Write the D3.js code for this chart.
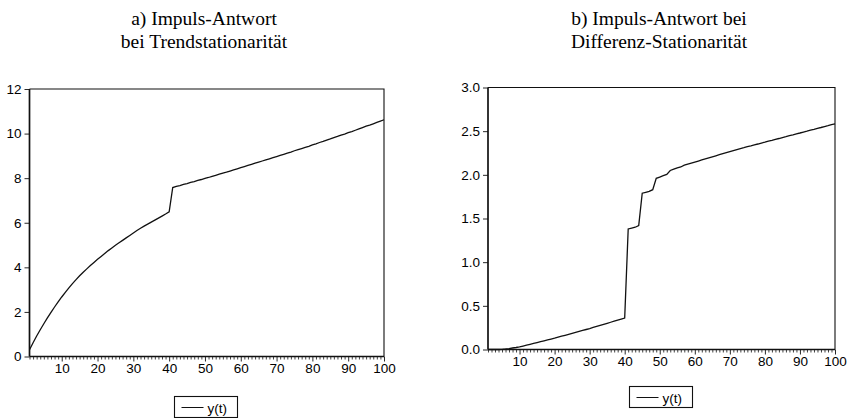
<!DOCTYPE html>
<html>
<head>
<meta charset="utf-8">
<script src="https://cdn.jsdelivr.net/npm/d3@7"></script>
<style>
  html, body { margin: 0; padding: 0; background: #fff; }
  svg { display: block; }
  .tick text { font-family: "Liberation Sans", Arial, sans-serif; font-size: 13.5px; fill: #000; }
  .title { font-family: "Liberation Serif", "Times New Roman", serif; font-size: 19.5px; fill: #000; }
  .legend text { font-family: "Liberation Sans", Arial, sans-serif; font-size: 13.5px; fill: #000; }
</style>
</head>
<body>
<svg id="chart" width="849" height="418"></svg>
<script>
// Periods 1..100
const periods = d3.range(1, 101);

// a) impulse response under trend stationarity
const trendResponse = [
  0.30, 0.62, 0.92, 1.20, 1.47, 1.73, 1.98, 2.22, 2.45, 2.67,
  2.88, 3.08, 3.27, 3.45, 3.62, 3.78, 3.93, 4.08, 4.22, 4.36,
  4.49, 4.62, 4.75, 4.87, 4.99, 5.10, 5.21, 5.32, 5.43, 5.54,
  5.65, 5.75, 5.85, 5.94, 6.03, 6.12, 6.21, 6.30, 6.39, 6.49,
  7.58, 7.63, 7.67, 7.72, 7.76, 7.81, 7.85, 7.90, 7.94, 7.99,
  8.03, 8.08, 8.13, 8.18, 8.23, 8.27, 8.32, 8.37, 8.42, 8.47,
  8.52, 8.57, 8.62, 8.67, 8.72, 8.77, 8.82, 8.87, 8.92, 8.97,
  9.02, 9.07, 9.12, 9.17, 9.23, 9.28, 9.33, 9.38, 9.43, 9.49,
  9.54, 9.60, 9.65, 9.71, 9.76, 9.82, 9.87, 9.93, 9.98, 10.04,
  10.09, 10.15, 10.21, 10.27, 10.33, 10.38, 10.44, 10.50, 10.56, 10.62
];

// b) impulse response under difference stationarity
const diffResponse = [
  0.000, 0.000, 0.000, 0.000, 0.002, 0.006, 0.011, 0.017, 0.023, 0.030,
  0.040, 0.050, 0.060, 0.070, 0.080, 0.090, 0.100, 0.110, 0.120, 0.130,
  0.141, 0.152, 0.163, 0.174, 0.185, 0.196, 0.207, 0.218, 0.229, 0.240,
  0.252, 0.264, 0.276, 0.288, 0.300, 0.312, 0.324, 0.336, 0.348, 0.360,
  1.380, 1.390, 1.400, 1.420, 1.790, 1.800, 1.810, 1.830, 1.960, 1.975,
  1.990, 2.005, 2.050, 2.065, 2.080, 2.090, 2.110, 2.122, 2.134, 2.146,
  2.158, 2.170, 2.182, 2.194, 2.206, 2.218, 2.230, 2.242, 2.254, 2.266,
  2.278, 2.290, 2.301, 2.311, 2.322, 2.332, 2.343, 2.353, 2.364, 2.374,
  2.385, 2.395, 2.406, 2.416, 2.427, 2.437, 2.448, 2.458, 2.469, 2.479,
  2.490, 2.500, 2.511, 2.521, 2.532, 2.542, 2.553, 2.563, 2.574, 2.584
];

const yTicksA = [0, 2, 4, 6, 8, 10, 12];
const yTicksB = [0.0, 0.5, 1.0, 1.5, 2.0, 2.5, 3.0];
const xLabelTicks = [10, 20, 30, 40, 50, 60, 70, 80, 90, 100];

const titlesA = ["a) Impuls-Antwort", "bei Trendstationarität"];
const titlesB = ["b) Impuls-Antwort bei", "Differenz-Stationarität"];
const legendLabel = "y(t)";

const svg = d3.select("#chart");
const ink = "#111";

function drawPanel(cfg) {
  const x = d3.scaleLinear().domain([1, 100]).range([cfg.left, cfg.right]);
  const y = d3.scaleLinear().domain(cfg.yDomain).range([cfg.bottom, cfg.top]);
  const g = svg.append("g");

  // two-line title
  cfg.titles.forEach((t, i) => {
    g.append("text").attr("class", "title")
      .attr("x", cfg.titleX).attr("y", cfg.titleY + i * 23)
      .attr("text-anchor", "middle").text(t);
  });

  // frame (top and right edges)
  g.append("path")
    .attr("d", `M${cfg.left},${cfg.top}H${cfg.right}V${cfg.bottom}`)
    .attr("fill", "none").attr("stroke", ink).attr("stroke-width", 1.1);

  // minor x ticks, one per period
  const minor = g.append("g").attr("transform", `translate(0,${cfg.bottom})`)
    .call(d3.axisBottom(x).tickValues(periods.filter(p => p % 10 !== 0))
      .tickSize(3).tickFormat(""));
  minor.select(".domain").remove();
  minor.selectAll("line").attr("stroke", ink).attr("stroke-width", 0.8);

  // labelled x ticks
  const major = g.append("g").attr("transform", `translate(0,${cfg.bottom})`)
    .call(d3.axisBottom(x).tickValues(xLabelTicks).tickSize(5).tickPadding(2)
      .tickFormat(d3.format("d")));
  major.select(".domain").attr("stroke", ink).attr("stroke-width", 1.4)
    .attr("d", `M${cfg.left},0H${cfg.right}`);
  major.selectAll("line").attr("stroke", ink).attr("stroke-width", 0.9);

  // y axis
  const ya = g.append("g").attr("transform", `translate(${cfg.left},0)`)
    .call(d3.axisLeft(y).tickValues(cfg.yTicks).tickSize(5).tickPadding(3)
      .tickFormat(cfg.yFormat));
  ya.select(".domain").attr("stroke", ink).attr("stroke-width", 1.7)
    .attr("d", `M0,${cfg.top}V${cfg.bottom}`);
  ya.selectAll("line").attr("stroke", ink).attr("stroke-width", 0.9);

  // response line
  const line = d3.line().x((d, i) => x(periods[i])).y(d => y(d));
  g.append("path").datum(cfg.values)
    .attr("d", line).attr("fill", "none")
    .attr("stroke", ink).attr("stroke-width", 1.3);

  // legend
  const lg = g.append("g").attr("class", "legend");
  lg.append("rect").attr("x", cfg.legend.x).attr("y", cfg.legend.y)
    .attr("width", 63).attr("height", 21)
    .attr("fill", "#fff").attr("stroke", ink).attr("stroke-width", 1.1);
  const my = cfg.legend.y + 11;
  lg.append("line").attr("x1", cfg.legend.x + 7).attr("x2", cfg.legend.x + 29)
    .attr("y1", my).attr("y2", my).attr("stroke", ink).attr("stroke-width", 1);
  lg.append("text").attr("x", cfg.legend.x + 33).attr("y", my + 5).text(legendLabel);
}

drawPanel({
  left: 29.5, right: 384, top: 89, bottom: 356.5,
  yDomain: [0, 12], yTicks: yTicksA, yFormat: d3.format("d"),
  values: trendResponse, titles: titlesA, titleX: 204, titleY: 25,
  legend: { x: 174.5, y: 396.5 }
});

drawPanel({
  left: 488, right: 835, top: 87.5, bottom: 349.5,
  yDomain: [0, 3], yTicks: yTicksB, yFormat: d3.format(".1f"),
  values: diffResponse, titles: titlesB, titleX: 659, titleY: 25,
  legend: { x: 629.5, y: 386.5 }
});
</script>
</body>
</html>
